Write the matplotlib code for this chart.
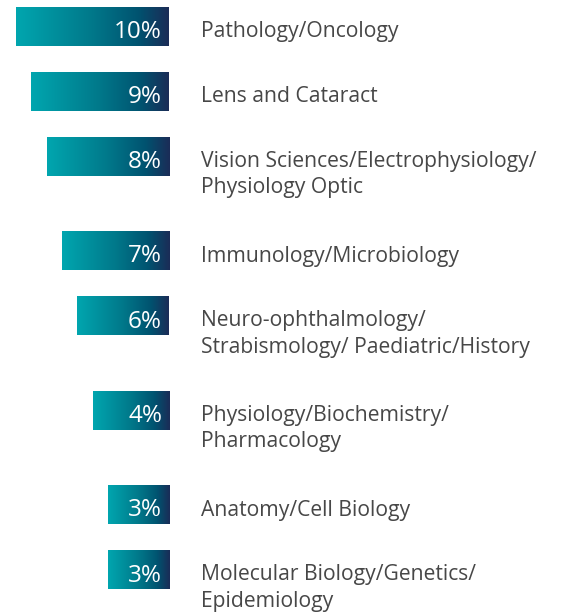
import numpy as np
import matplotlib
matplotlib.use("Agg")
from matplotlib import pyplot as plt
from matplotlib.colors import LinearSegmentedColormap

# data
categories = [
    "Pathology/Oncology",
    "Lens and Cataract",
    "Vision Sciences/Electrophysiology/\nPhysiology Optic",
    "Immunology/Microbiology",
    "Neuro-ophthalmology/\nStrabismology/ Paediatric/History",
    "Physiology/Biochemistry/\nPharmacology",
    "Anatomy/Cell Biology",
    "Molecular Biology/Genetics/\nEpidemiology",
]
shares = [10, 9, 8, 7, 6, 4, 3, 3]
# bar lengths as drawn (graphic is stylised, not proportional)
bar_len = [10, 9, 8, 7, 6, 5, 4, 4]

W, H = 561, 615
PX = 15.3  # pixels per bar unit
X_RIGHT = 169
LINE = 26  # pixel pitch between label lines

fig = plt.figure(figsize=(W / 100, H / 100), dpi=100)
ax = fig.add_axes([0, 0, 1, 1])
ax.axis("off")

cmap = LinearSegmentedColormap.from_list(
    "teal_navy",
    [(0, "#00A6AF"), (0.5, "#00788A"), (0.8, "#005370"), (1, "#1B2C57")])
grad = np.linspace(0, 1, 256).reshape(1, -1)

# vertical centres: two-line labels get extra room
centres = []
y = 26.5
for lab in categories:
    centres.append(y)
    y += 65 + 29.5 * lab.count("\n")

bar_h = 39
font = ["Open Sans", "DejaVu Sans"]
for lab, val, ln, yc in zip(categories, shares, bar_len, centres):
    ax.imshow(grad, cmap=cmap, aspect="auto", interpolation="bicubic",
              extent=(-ln, 0, yc + bar_h / 2, yc - bar_h / 2), zorder=1)
    ax.text(-0.45, yc + 11.5, f"{val}%", color="white", ha="right", va="baseline",
            fontsize=17.5, family=font, zorder=2)
    # baseline alignment goes by the last line, so push down for extra lines
    ax.text(32 / PX, yc + 11 + LINE * lab.count("\n"), lab, color="#474747",
            ha="left", va="baseline", fontsize=15.2, family=font, linespacing=1.36)

ax.set_xlim(-X_RIGHT / PX, (W - X_RIGHT) / PX)
ax.set_ylim(H, 0)
fig.savefig("out.png", dpi=100)
